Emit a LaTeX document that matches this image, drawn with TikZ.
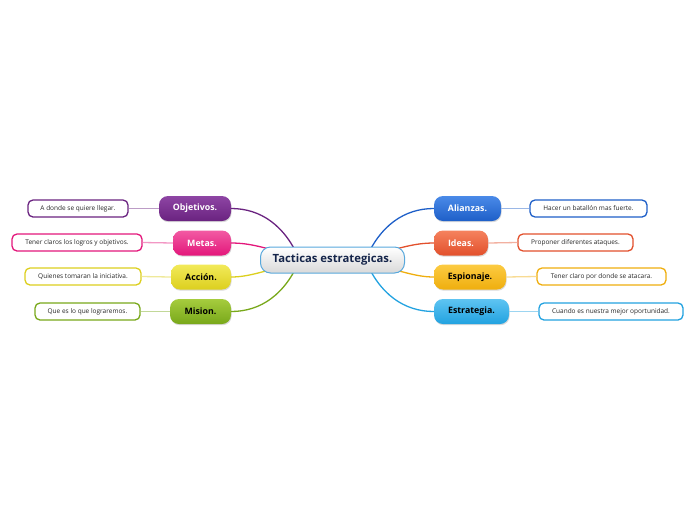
\documentclass[tikz,border=0pt]{standalone}
\usepackage{fontspec}
\setmainfont{Open Sans}
\usetikzlibrary{shadows,calc}
\definecolor{cpur}{HTML}{6A2380}
\definecolor{cpurT}{HTML}{8E45A4}
\definecolor{cpink}{HTML}{E3177B}
\definecolor{cpinkT}{HTML}{F25AA3}
\definecolor{cyel}{HTML}{DCCF1E}
\definecolor{cyelT}{HTML}{F2EA5A}
\definecolor{cgrn}{HTML}{78A81A}
\definecolor{cgrnT}{HTML}{A6CC3E}
\definecolor{cblu}{HTML}{1E5FC8}
\definecolor{cbluT}{HTML}{4A8AE8}
\definecolor{cred}{HTML}{E2502C}
\definecolor{credT}{HTML}{F5825E}
\definecolor{corg}{HTML}{EFAE0E}
\definecolor{corgT}{HTML}{FCCB42}
\definecolor{clbl}{HTML}{22A2E0}
\definecolor{clblT}{HTML}{5EC4F2}
\definecolor{cnavy}{HTML}{15254A}
\definecolor{cborder}{HTML}{58A8DC}
\tikzset{
  x=1pt, y=-1pt,
  central/.style={draw=cborder, line width=1pt, rounded corners=10pt, top color=white, bottom color=gray!30,
    minimum width=144pt, minimum height=26pt, font=\fontsize{11.3}{14}\selectfont\bfseries, text=cnavy, inner sep=0pt},
  branch/.style={rounded corners=9pt, minimum height=25pt, inner sep=0pt, font=\fontsize{8.8}{11}\selectfont\bfseries,
    drop shadow={opacity=0.3, shadow xshift=0.6pt, shadow yshift=-1.2pt}},
  leaf/.style={draw=#1, line width=1.3pt, fill=white, rounded corners=5pt, minimum height=17pt, inner sep=0pt,
    font=\fontsize{6.5}{8}\selectfont, text=black!85},
  conn/.style={draw=#1, line width=1.3pt},
  lconn/.style={draw=#1!45, line width=1.3pt},
}
\begin{document}
\begin{tikzpicture}
\useasboundingbox (0,0) rectangle (696,520);
\coordinate (cc) at (332.5,260);
% branch nodes
\node[branch, top color=cpurT, bottom color=cpur, text=white, minimum width=72pt] (obj) at (195,208.5) {Objetivos.};
\node[branch, top color=cpinkT, bottom color=cpink, text=white, minimum width=58pt] (met) at (202,243) {Metas.};
\node[branch, top color=cyelT, bottom color=cyel, text=black, minimum width=60pt] (acc) at (201,277) {Acción.};
\node[branch, top color=cgrnT, bottom color=cgrn, text=black, minimum width=61pt] (mis) at (200.5,311.5) {Mision.};
\node[branch, top color=cbluT, bottom color=cblu, text=white, minimum width=67pt] (ali) at (467.5,208.5) {Alianzas.};
\node[branch, top color=credT, bottom color=cred, text=white, minimum width=54pt] (ide) at (461,243) {Ideas.};
\node[branch, top color=corgT, bottom color=corg, text=black, minimum width=72pt] (esp) at (470,277) {Espionaje.};
\node[branch, top color=clblT, bottom color=clbl, text=black, minimum width=75pt] (est) at (471.5,311.5) {Estrategia.};
% leaves
\node[leaf=cpur, minimum width=100pt] (l1) at (78,208.5) {A donde se quiere llegar.};
\node[leaf=cpink, minimum width=130pt] (l2) at (77,242.5) {Tener claros los logros  y objetivos.};
\node[leaf=cyel, minimum width=116pt] (l3) at (83,276.5) {Quienes tomaran la iniciativa.};
\node[leaf=cgrn, minimum width=105pt] (l4) at (87.5,311.5) {Que es lo que lograremos.};
\node[leaf=cblu, minimum width=117pt] (r1) at (588.5,208.5) {Hacer un batallón mas fuerte.};
\node[leaf=cred, minimum width=115pt] (r2) at (575.5,242.5) {Proponer diferentes ataques.};
\node[leaf=corg, minimum width=129pt] (r3) at (601.5,276.5) {Tener claro por donde se atacara.};
\node[leaf=clbl, minimum width=144pt] (r4) at (611,311.5) {Cuando es nuestra mejor oportunidad.};
% leaf connectors
\draw[lconn=cpur] (obj.west) -- (l1.east);
\draw[lconn=cpink] (met.west) -- (l2.east);
\draw[lconn=cyel] (acc.west) -- (l3.east);
\draw[lconn=cgrn] (mis.west) -- (l4.east);
\draw[lconn=cblu] (ali.east) -- (r1.west);
\draw[lconn=cred] (ide.east) -- (r2.west);
\draw[lconn=corg] (esp.east) -- (r3.west);
\draw[lconn=clbl] (est.east) -- (r4.west);
% central connectors
\draw[conn=cpur] ($(cc)+(-32,2)$) .. controls +(-15,-37) and +(29,0) .. (obj.east);
\draw[conn=cpink] ($(cc)+(-42,-5)$) .. controls +(-25,-7) and +(19,0) .. (met.east);
\draw[conn=cyel] ($(cc)+(-42,5)$) .. controls +(-25,5) and +(19,0) .. (acc.east);
\draw[conn=cgrn] ($(cc)+(-32,-2)$) .. controls +(-15,37) and +(29,0) .. (mis.east);
\draw[conn=cblu] ($(cc)+(32,2)$) .. controls +(15,-37) and +(-29,0) .. (ali.west);
\draw[conn=cred] ($(cc)+(42,-5)$) .. controls +(25,-7) and +(-19,0) .. (ide.west);
\draw[conn=corg] ($(cc)+(42,5)$) .. controls +(25,5) and +(-19,0) .. (esp.west);
\draw[conn=clbl] ($(cc)+(32,-2)$) .. controls +(15,37) and +(-29,0) .. (est.west);
% central node
\node[central] (c) at (cc) {Tacticas estrategicas.};
\end{tikzpicture}
\end{document}
